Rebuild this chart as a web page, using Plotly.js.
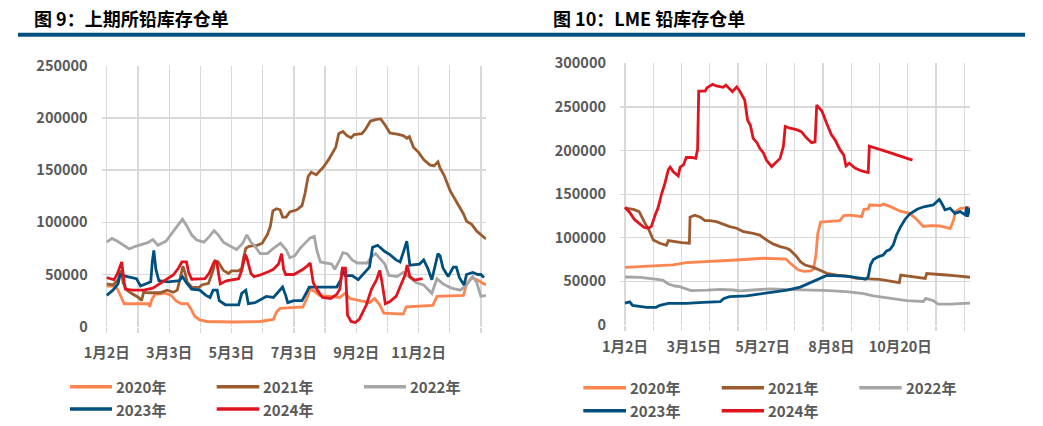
<!DOCTYPE html>
<html>
<head>
<meta charset="utf-8">
<script src="https://cdn.plot.ly/plotly-3.0.1.min.js"></script>
<style>
html,body{margin:0;padding:0;background:#ffffff;}
#chart{width:1043px;height:426px;}
</style>
</head>
<body>
<div id="chart"></div>
<script>
// ---------------- data (x = days after 1月2日, values in thousand tonnes) ----------------
const TONNES_PER_UNIT = 1000;
const seriesNames = ['2020年', '2021年', '2022年', '2023年', '2024年'];
const seriesColors = ['#FF8550', '#9C5B2E', '#A6A6A6', '#00507F', '#E0141E'];

// 上期所铅库存仓单
const shfeTickDays = [0, 30.5, 61, 91.5, 122, 152.5, 183, 213.5, 244, 274.5, 305, 335.5, 366];
const shfeTickText = ['1月2日', '', '3月3日', '', '5月3日', '', '7月3日', '', '9月2日', '', '11月2日', '', ''];

const shfe2020Days = [0,8,11,15,17,30,40.5,42,44,47,57,63,68,73,79,82,86,91,98,124,150,163,166,169.5,183,192,196,199,203,208,228,233,238,248,257,262,267,271,290,293,319,323,349,352,357,362,371];
const shfe2020Vals = [39,39,35,26,22,22,22,19,26,31,32,30,24.5,22,22,17.5,10,6.5,5,4.5,5,7,14,17.5,18,19,28,36,34,30,28,32,27,25,23,27,21,13,12,19,20.5,29,30,41,47,45,40];

const shfe2021Days = [0,6,11,14,16,19.5,24,31,34,36,41,52,59,65,69,72,74.5,77,78.5,83,90,93,99.5,104,106,109,114,119,122,129,132,134,136,139,147,152,157,160,162.5,166,169.5,172,175.5,179,186,191,194,197,200,205,212,217,221,224,227,231,235,239,242,249.5,253,258,264,268,272.4,277,284,290,293.6,296,300,305,310,316,320,324,326,330,336,342,346,349,352,357,362,366,371];
const shfe2021Vals = [41,40,45,54,42,35,32,28,25,33,32.5,32.5,35,33,35,48,58,50,43,38,37.5,40,41.5,54,63,62,54,51,53.5,53.5,56,67,75,77,78,80,88,96,111,113,112,105,105,110,112,116,128,144,148,145.5,153,160,167,172,185,187,183,181,184,185,189,197,198.5,199,193,185.5,184.5,183,180.5,182,172,167,160,155,154,158,152,145,130,120,113,108,101,98,91.5,88,84];

const shfe2022Days = [0,5,10,18,22,28,35,40,45,50,58,65,70,74,78,83,88,95,100,105,109,114,121,127,133,137,141,145,150,157,163,170,176,179,184,189,195,199,203,205.5,209,215,220,223,228,231,235,240,245,255,259,263,268,272,276,284,290,295,303,310,318,323,329,337,346,352,358,362,366,371];
const shfe2022Vals = [81,84.5,82,77,74.5,77,79,80.5,83.5,78,82,91,97,103,97,88,83,81,86,92,88,81,77,74,80,88,81,77,70,70,75,80,73,66,68,75,81,85,86.5,73,62,61,60,55,64,71,70,64,61,61,67,70,65,60,49,48,52,48,42,40,32,46,41,37,35,40,48,42,29,30];

const shfe2023Days = [0,6,11,13,20,29,33,40,43,44.5,46,48,51,60,71,74,78,83,91,97,101,104,108,110,116,129,132,136,138.5,145,151,156,163,169,172,175,177,183,191,195,198,203,225,229,230.5,233,240,246,251,257,260,265,272,277,283,287,290,293.5,296.5,306,310,314,318,322,324,326,329,334,339,342,345,349.5,352,358,363,366,369];
const shfe2023Vals = [30,35,41,50,48,46,39,42,43,62,73,55,44,43,44,48,42,36,35,30,28,35,35,25,21,21,32,35,22,23,26,29,28,35,38,30,23,25,25,32,38,38,38,45,55,49,49,45,50,57,76,78,72,69,64,62,71,82,59,60,64,56,45,60,70,68,56,48,57,57,47,40,50,52,50,50,47];

const shfe2024Days = [0,7,10,13,14.6,16,18,25,36,45,50,58,65,70,73.5,78,80,83,96,100,105,107.5,109.5,111,117,129,132,135.5,137,141,144,150,158,163,168,171,173,175,183,192,197,199,202,206,211,219,225,228,230.5,233.5,235.5,239,243,247,250,254,259,264,267,269,272.5,277,283,288,292,293.8,296.5,301,305,309];
const shfe2024Vals = [47,45,50,58,62,50,36,35,35,37,40,44.5,49.5,56,62,62,52,45.5,46,51,62,62,50,41,44,46,54,69,66,51,48,49.5,52.7,55,60,70,55,50,50,55,59,61,42,35,28,27,31,36,56,56,11,5,4,7,13,21,36,45,54,44,22,24,29,40,50,59,48,44.7,45,46];

// LME铅库存仓单
const lmeGridDays = [0, 30, 60, 90, 120, 150, 180, 210, 240, 270, 300, 330, 360];
const lmeLabelDays = [0, 73, 146, 219, 292];
const lmeLabelText = ['1月2日', '3月15日', '5月27日', '8月8日', '10月20日'];

const lme2020Days = [0,23,51,65,90,118,147,171,175,179,184,190,197,200,202.5,204.5,207.5,214,228,232,239,251,253.5,258,259.5,271,274,281,292,302,309.5,316.5,324,334,345,348.5,350.5,356,366];
const lme2020Vals = [66,67,69,71.5,72.6,74.5,76.5,75.5,71,67,63,61.5,62,64,80,105,118,118.5,119.7,125.5,126,124.2,132.5,133,137.5,137,138.6,136,130.5,128,121,113,114,113.5,110.5,120,130,133.8,134.5];

const lme2021Days = [0,9,15,17.7,21,25,27,30,37,44,46,51,60,68.3,69,74,80,85,90,97,104,111,118.5,125.6,136,143,150,157,164.5,171.5,175,178.6,182,186,191,200,207,214,225,235,246,260,270,278,288,291,292.5,299,310,318.5,320,331,341,352,366];
const lme2021Vals = [134,132.5,130,124,117,110,105,97.5,93.7,91.4,96.7,95.6,94.4,93.7,123.5,125.8,123.5,119.7,119.7,118.5,115.8,112.8,110.9,107,105,103,97.5,93,89.8,88,86,82.5,78.5,72.6,68.8,66,62.3,59.3,57.3,56.2,53.5,52.8,52.4,50.8,49.7,48.6,57.3,56.2,54.7,53.5,59,58.5,57.3,56.2,54.7];

const lme2022Days = [0,16,30,40,46,53,58,64,70,87,101,115,122,136,154,175,210,235,246,253,263.5,281,292,299,316.5,319,327,332,345,366];
const lme2022Vals = [55,54.7,52.8,51.6,47,44.7,44,41.5,39.4,40,40.9,40.1,39.2,40.1,41.5,40.5,39.8,38.2,37,36,33.3,31,29.5,28,27,30.6,28,24,24,25];

const lme2023Days = [0,5,8,12,23,33,37,46,65,83,101,105,111,129,143,157,172,186,195,203,214,228,239,251,255,258,260.5,263.5,269,274,277.6,281,284.7,288,292,297,302,310,317,327,333.4,336,339.5,345,350,355.6,361,362.6,363.3,366];
const lme2023Vals = [25,26.5,22.5,21.8,20.3,20.3,22.5,24.8,24.8,26,26.8,30.5,32.5,33.3,35.6,37.8,40.1,43.5,48,51.6,56.8,56.2,55.4,53.5,52.4,55.4,69,75,78.4,80.3,85,86.5,92,103,112,121,127.3,132.7,135.5,137.6,144,139.5,132,133.8,128,130,126.2,135.7,124.2,133.8];

const lme2024Days = [0,5,10,16,20,25,28,32,35,39,42,46,48,51,56.5,58.5,62,65,71,75,77,78.2,85,87,93,97,104,107,111,114,118.5,121,127,130,133,136,140,143,147,150,155.6,159,164.5,168,170,175,182,187,193,198,201.6,203.4,209,214,219,223,228,232,234.5,238,244,251,258,259.2,267,274,281,288,297,305];
const lme2024Vals = [135,129,121,116,112,111,113,126,134,151,161,178,181,176,171,181,183.5,192,192,191,201,268,268,272,276,274,272.5,275,270,267.5,273,269.5,258,235,229,214,209,202.6,197,189,181.6,185.4,191,204.5,227.5,225.6,224,221.7,214,209,210,252,245,231,218,212,201,195,182.4,185.4,180,176.6,174.7,205,202.6,200,197.6,195,192,189];

// ---------------- build ----------------
const W = 1043, H = 426;
const fx = x => x / W;
const fy = y => 1 - y / H;
const tonnes = arr => arr.map(v => v * TONNES_PER_UNIT);

const shfeSeries = [[shfe2020Days, shfe2020Vals], [shfe2021Days, shfe2021Vals], [shfe2022Days, shfe2022Vals], [shfe2023Days, shfe2023Vals], [shfe2024Days, shfe2024Vals]];
const lmeSeries = [[lme2020Days, lme2020Vals], [lme2021Days, lme2021Vals], [lme2022Days, lme2022Vals], [lme2023Days, lme2023Vals], [lme2024Days, lme2024Vals]];

const LINE_W = 2.8;
const traces = [];
shfeSeries.forEach((s, i) => {
  traces.push({type: 'scatter', mode: 'lines', name: seriesNames[i], x: s[0], y: tonnes(s[1]),
    xaxis: 'x', yaxis: 'y', line: {color: seriesColors[i], width: LINE_W}, hoverinfo: 'skip', showlegend: false});
});
lmeSeries.forEach((s, i) => {
  traces.push({type: 'scatter', mode: 'lines', name: seriesNames[i], x: s[0], y: tonnes(s[1]),
    xaxis: i === 4 ? 'x3' : 'x2', yaxis: 'y2', line: {color: seriesColors[i], width: LINE_W}, hoverinfo: 'skip', showlegend: false});
});

const FONT = "'Noto Sans CJK SC', 'Noto Sans', sans-serif";
const tickFont = {family: FONT, size: 14.5, color: '#595959', weight: 'bold'};
const GRID = '#D9D9D9';

const shapes = [
  {type: 'rect', xref: 'paper', yref: 'paper', x0: fx(18), x1: fx(1025), y0: fy(36.7), y1: fy(32.7), fillcolor: '#00507F', line: {width: 0}, layer: 'above'}
];
const annotations = [
  {xref: 'paper', yref: 'paper', x: fx(32), y: fy(18), xanchor: 'left', yanchor: 'middle', showarrow: false,
   text: '图 9：上期所铅库存仓单', font: {family: FONT, size: 18, color: '#000000', weight: 'bold'}},
  {xref: 'paper', yref: 'paper', x: fx(550.5), y: fy(18), xanchor: 'left', yanchor: 'middle', showarrow: false,
   text: '图 10：LME 铅库存仓单', font: {family: FONT, size: 18, color: '#000000', weight: 'bold'}}
];

// manual legends (one per chart)
const legendLayouts = [
  {cols: [[70, 112, 114], [216.7, 259.3, 261], [364, 406, 408]], rows: [386.7, 409]},
  {cols: [[583.3, 626, 627.5], [721.7, 764, 766], [859.3, 901.7, 904]], rows: [387.7, 410.7]}
];
legendLayouts.forEach(L => {
  seriesNames.forEach((nm, i) => {
    const c = L.cols[i % 3], r = L.rows[Math.floor(i / 3)];
    shapes.push({type: 'line', xref: 'paper', yref: 'paper', x0: fx(c[0]), x1: fx(c[1]), y0: fy(r), y1: fy(r),
      line: {color: seriesColors[i], width: 3.5}});
    annotations.push({xref: 'paper', yref: 'paper', x: fx(c[2]), y: fy(r), xanchor: 'left', yanchor: 'middle',
      showarrow: false, text: nm, font: {family: FONT, size: 15, color: '#595959', weight: 'bold'}});
  });
});

const layout = {
  width: W, height: H,
  margin: {l: 0, r: 0, t: 0, b: 0},
  paper_bgcolor: '#ffffff', plot_bgcolor: '#ffffff',
  showlegend: false,
  xaxis: {domain: [fx(101.7), fx(486)], range: [-5, 371], anchor: 'y',
    tickmode: 'array', tickvals: shfeTickDays, ticktext: shfeTickText,
    showgrid: true, gridcolor: GRID, gridwidth: 1.3, zeroline: false, showline: false,
    ticks: 'outside', ticklen: 5, tickwidth: 1.3, tickcolor: GRID, tickfont: tickFont, ticklabelstandoff: 8},
  yaxis: {domain: [fy(326.7), fy(65.7)], range: [0, 250000], anchor: 'x',
    tickmode: 'linear', tick0: 0, dtick: 50000, tickformat: 'd',
    showgrid: true, gridcolor: GRID, gridwidth: 1.3, zeroline: false, showline: false,
    ticks: '', tickfont: tickFont, ticklabelstandoff: 13},
  xaxis2: {domain: [fx(620), fx(970)], range: [-5.3, 366], anchor: 'y2',
    tickmode: 'array', tickvals: lmeGridDays, ticktext: lmeGridDays.map(() => ''),
    showgrid: true, gridcolor: GRID, gridwidth: 1.3, zeroline: false, showline: false,
    ticks: 'outside', ticklen: 5, tickwidth: 1.3, tickcolor: GRID, tickfont: tickFont},
  xaxis3: {overlaying: 'x2', range: [-5.3, 366], anchor: 'y2', side: 'bottom',
    tickmode: 'array', tickvals: lmeLabelDays, ticktext: lmeLabelText,
    showgrid: false, zeroline: false, showline: false, ticks: '', tickfont: tickFont, ticklabelstandoff: 11},
  yaxis2: {domain: [fy(325), fy(63.3)], range: [0, 300000], anchor: 'x2',
    tickmode: 'linear', tick0: 0, dtick: 50000, tickformat: 'd',
    showgrid: true, gridcolor: GRID, gridwidth: 1.3, zeroline: false, showline: false,
    ticks: '', tickfont: tickFont, ticklabelstandoff: 13},
  shapes: shapes,
  annotations: annotations
};

Plotly.newPlot('chart', traces, layout, {staticPlot: true, displayModeBar: false});
</script>
</body>
</html>
